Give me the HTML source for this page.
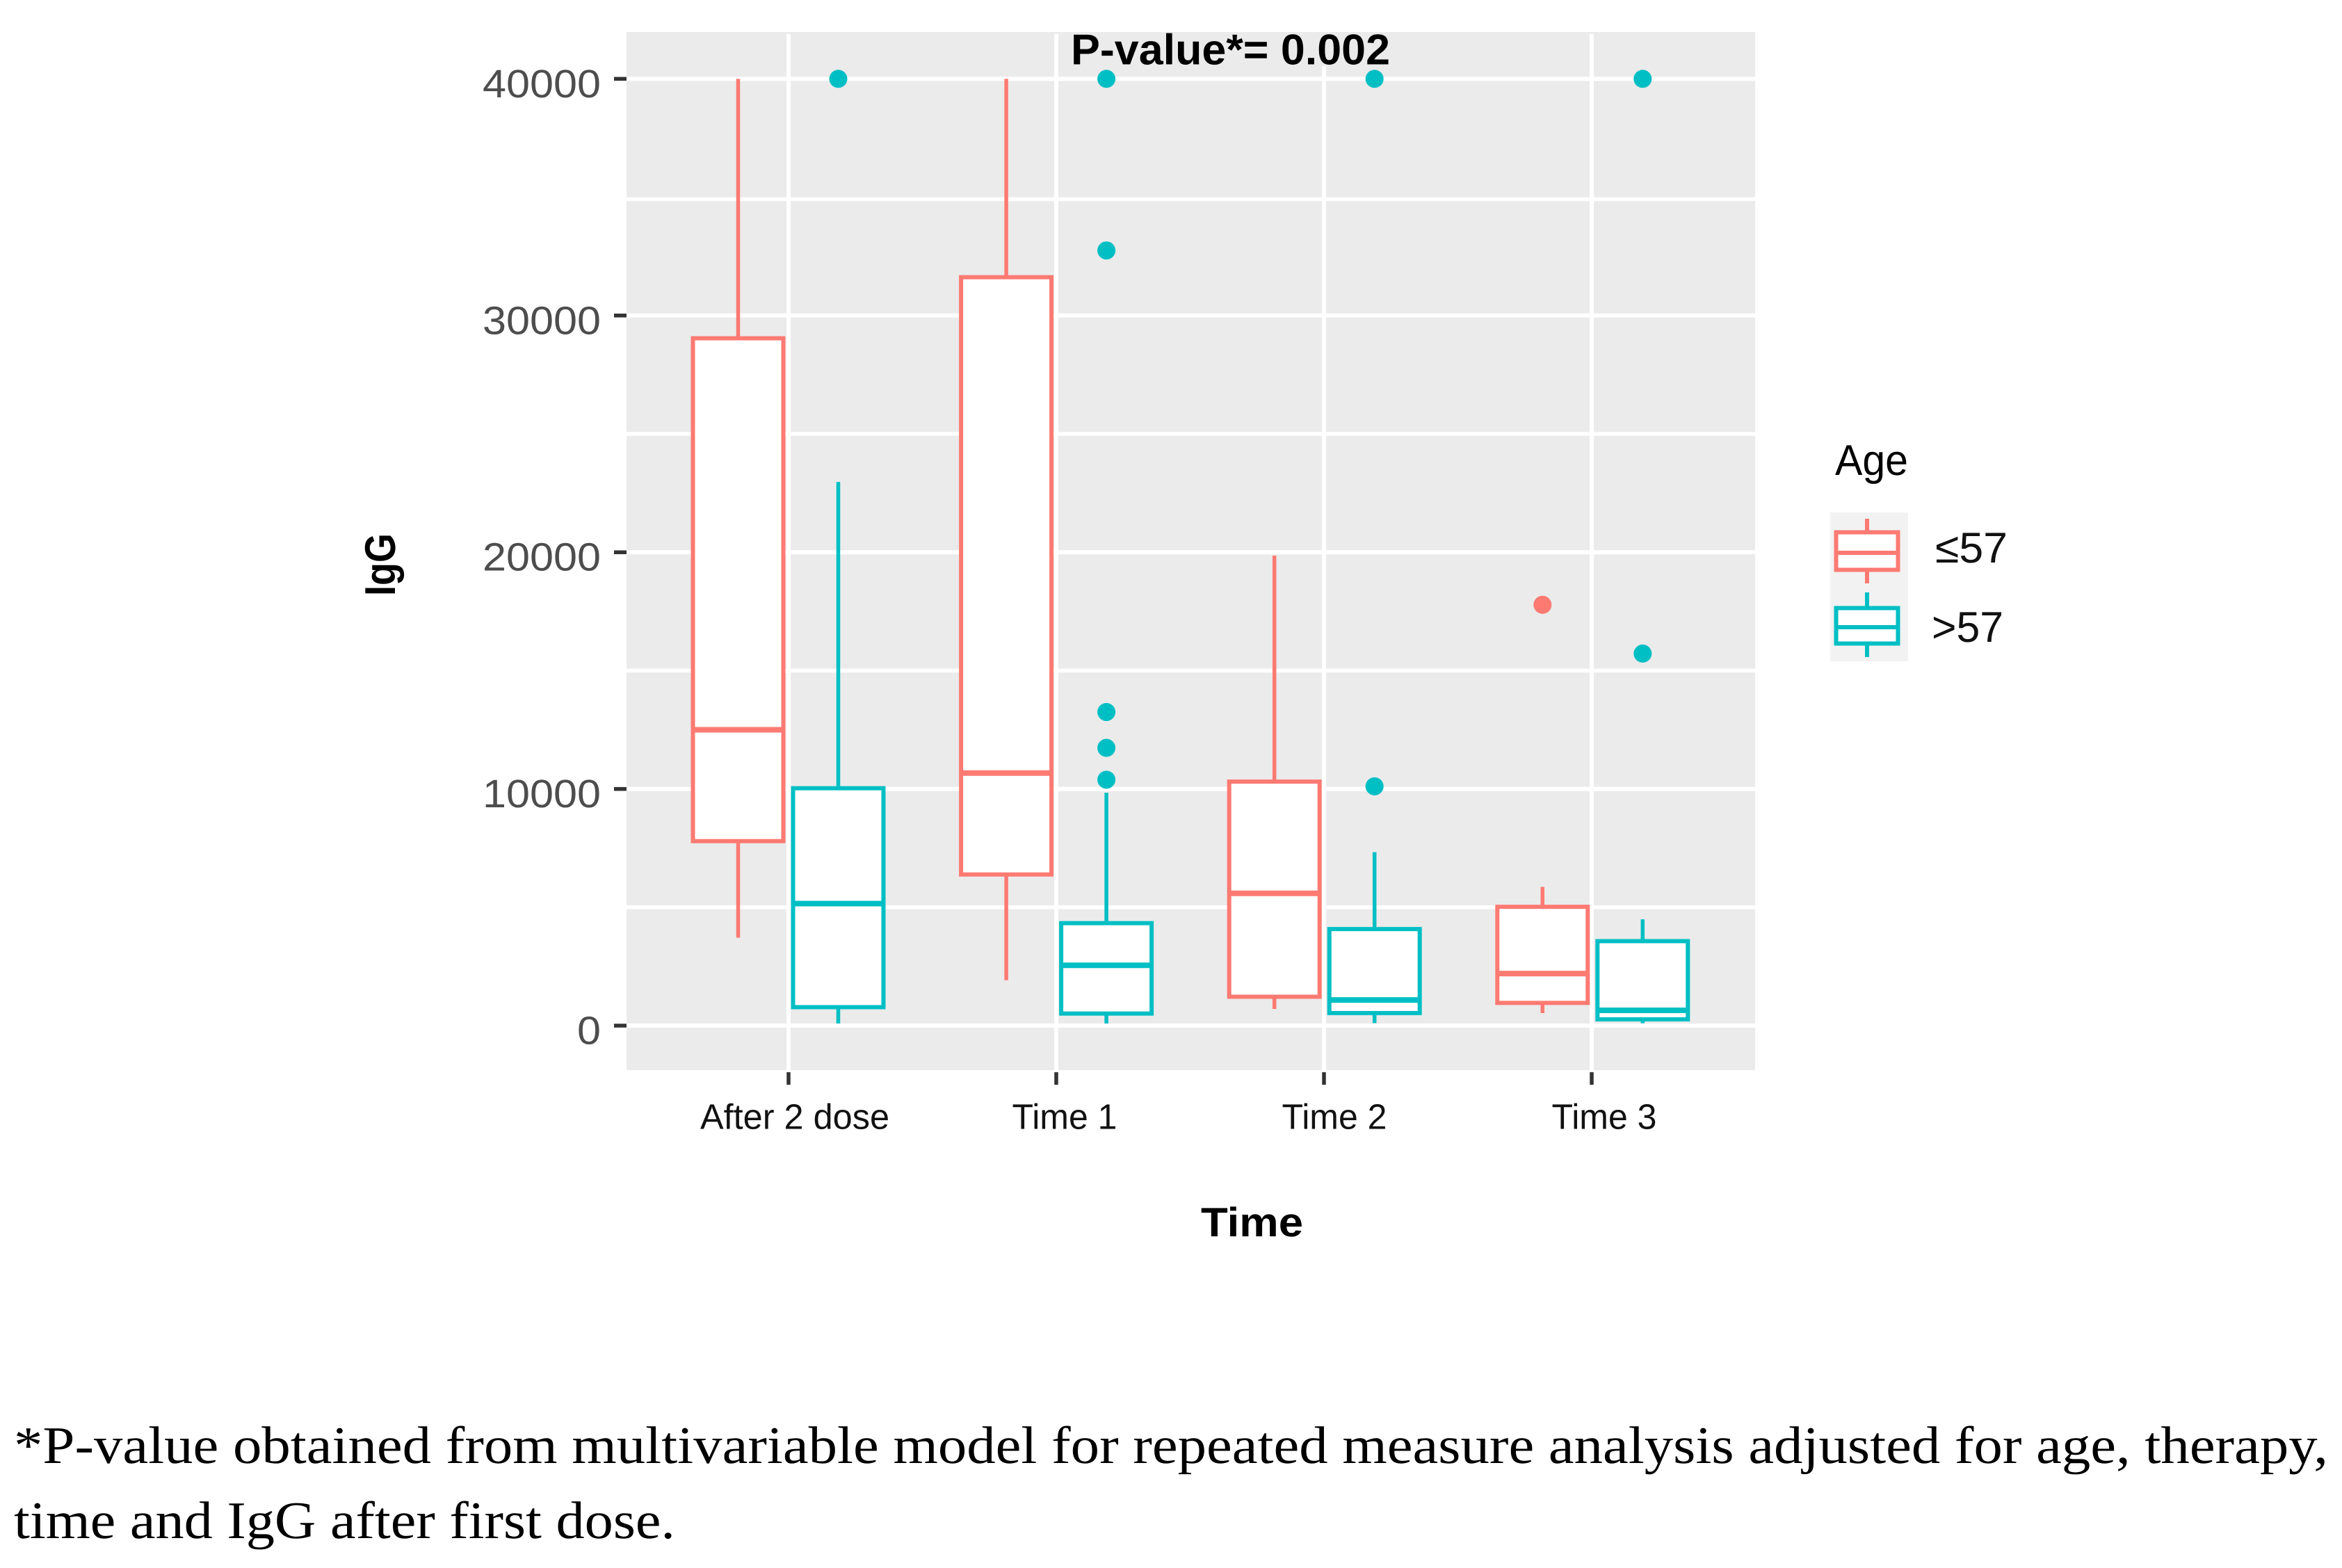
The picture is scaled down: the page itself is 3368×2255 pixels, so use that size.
<!DOCTYPE html>
<html lang="en">
<head>
<meta charset="utf-8">
<title>IgG by Time and Age</title>
<style>
html,body{margin:0;padding:0;background:#fff;}
body{width:3368px;height:2255px;overflow:hidden;}
svg{display:block;text-rendering:geometricPrecision;}
text{font-family:"Liberation Sans",sans-serif;}
.note{font-family:"Liberation Serif",serif;font-size:76px;fill:#000;}
</style>
</head>
<body>
<svg id="chart" xmlns="http://www.w3.org/2000/svg" width="3368" height="2255" viewBox="0 0 3368 2255">
  <rect width="3368" height="2255" fill="#ffffff"/>
  <rect x="901" y="46" width="1623" height="1493" fill="#ebebeb"/>
  <g id="grid"></g>
  <g id="marks"></g>
  <g id="axes"></g>
  <rect x="1538" y="46" width="464" height="49" fill="#ebebeb"/>
  <text x="1540" y="92.5" font-size="62" font-weight="700" fill="#000" textLength="459" lengthAdjust="spacingAndGlyphs">P-value*= 0.002</text>
  <text x="1727" y="1778" font-size="59" font-weight="700" fill="#000" textLength="147" lengthAdjust="spacingAndGlyphs">Time</text>
  <text transform="translate(568 857) rotate(-90)" font-size="62" font-weight="700" fill="#000" textLength="90" lengthAdjust="spacingAndGlyphs">IgG</text>

  <g>
    <text x="2639" y="683" font-size="62" fill="#000" textLength="105" lengthAdjust="spacingAndGlyphs">Age</text>
    <rect x="2632" y="737" width="112" height="214" fill="#f2f2f2"/>
    <g stroke="#fc7a72" stroke-width="6" fill="#fff">
      <line x1="2685" x2="2685" y1="746" y2="839"/>
      <rect x="2640.5" y="765.5" width="89" height="54"/>
      <line x1="2640" x2="2730" y1="795" y2="795"/>
    </g>
    <g stroke="#00bfc4" stroke-width="6" fill="#fff">
      <line x1="2685" x2="2685" y1="852" y2="945"/>
      <rect x="2640.5" y="874.5" width="89" height="51"/>
      <line x1="2640" x2="2730" y1="902" y2="902"/>
    </g>
    <text x="2783" y="809" font-size="62" fill="#111" textLength="104" lengthAdjust="spacingAndGlyphs">≤57</text>
    <text x="2778" y="923" font-size="62" fill="#111" textLength="103" lengthAdjust="spacingAndGlyphs">&gt;57</text>
  </g>

  <text class="note" x="20" y="2104" textLength="3328" lengthAdjust="spacingAndGlyphs">*P-value obtained from multivariable model for repeated measure analysis adjusted for age, therapy,</text>
  <text class="note" x="20" y="2212" textLength="951" lengthAdjust="spacingAndGlyphs">time and IgG after first dose.</text>
</svg>

<script>
const categories = ["After 2 dose", "Time 1", "Time 2", "Time 3"];
const yTickLabels = [0, 10000, 20000, 30000, 40000];
const yMinorTicks = [5000, 15000, 25000, 34920];

const youngWhiskerLow  = [3715, 1920, 705, 530];
const youngQ1          = [7795, 6385, 1220, 960];
const youngMedian      = [12500, 10670, 5590, 2200];
const youngQ3          = [29040, 31620, 10310, 5020];
const youngWhiskerHigh = [40000, 40000, 19860, 5860];
const youngOutliers    = [[], [], [], [17780]];

const oldWhiskerLow  = [90, 90, 105, 100];
const oldQ1          = [780, 510, 530, 265];
const oldMedian      = [5155, 2550, 1085, 645];
const oldQ3          = [10030, 4330, 4080, 3570];
const oldWhiskerHigh = [22970, 9840, 7330, 4490];
const oldOutliers    = [[40000], [40000, 32750, 13250, 11735, 10390], [40000, 10110], [40000, 15720]];

const NS = "http://www.w3.org/2000/svg";
function yScale(v) { return 1475 - v * 0.03404; }
function xScale(i) { return 1134 + i * 385; }
function groupCenter(i) { return 1133.5 + i * 385.6; }
function xLabelScale(i) { return 1143 + i * 388; }
function make(parent, tag, attrs) {
  const node = document.createElementNS(NS, tag);
  for (const key in attrs) node.setAttribute(key, attrs[key]);
  parent.appendChild(node);
  return node;
}

const grid = document.getElementById("grid");
const marks = document.getElementById("marks");
const axes = document.getElementById("axes");

yMinorTicks.forEach(function (v) {
  const line = make(grid, "line", { x1: 901, x2: 2524, y1: yScale(v), y2: yScale(v), stroke: "#ffffff", "stroke-width": 5.5 });
  
  
});
yTickLabels.forEach(function (v) {
  const line = make(grid, "line", { x1: 901, x2: 2524, y1: yScale(v), y2: yScale(v), stroke: "#ffffff", "stroke-width": 6 });
  
  

  const tick = make(axes, "line", { x1: 883, x2: 901, y1: yScale(v), y2: yScale(v), stroke: "#333333", "stroke-width": 5.5 });
  
  

  const label = make(axes, "text", { x: 864, y: yScale(v) + 26.5, "text-anchor": "end", "font-size": 57, fill: "#4d4d4d" });
  label.textContent = String(v);
  label.setAttribute('textLength', String(v).length * 34);
  label.setAttribute('lengthAdjust', 'spacingAndGlyphs');
  
  
});

categories.forEach(function (name, i) {
  const vline = make(grid, "line", { x1: xScale(i), x2: xScale(i), y1: 49, y2: 1539, stroke: "#ffffff", "stroke-width": 6 });
  
  

  const tick = make(axes, "line", { x1: xScale(i), x2: xScale(i), y1: 1542, y2: 1560, stroke: "#333333", "stroke-width": 5.5 });
  
  

  const label = make(axes, "text", { x: xLabelScale(i), y: 1623.5, "text-anchor": "middle", "font-size": 51, fill: "#111111" });
  label.textContent = name;
  label.setAttribute('textLength', name.length > 6 ? 272 : 151);
  label.setAttribute('lengthAdjust', 'spacingAndGlyphs');
  
  
});

function drawSeries(seriesName, color, offset, low, q1, med, q3, high, outliers) {
  categories.forEach(function (name, i) {
    const cx = groupCenter(i) + offset;
    const halfWidth = 65;

    const whisker = make(marks, "line", { x1: cx, x2: cx, y1: yScale(low[i]), y2: yScale(high[i]), stroke: color, "stroke-width": 5.5 });
    
    

    const box = make(marks, "rect", { x: cx - halfWidth, y: yScale(q3[i]), width: halfWidth * 2, height: yScale(q1[i]) - yScale(q3[i]), fill: "#ffffff", stroke: color, "stroke-width": 6 });
    
    

    const median = make(marks, "line", { x1: cx - halfWidth, x2: cx + halfWidth, y1: yScale(med[i]), y2: yScale(med[i]), stroke: color, "stroke-width": 8 });
    
    

    outliers[i].forEach(function (v, k) {
      const dot = make(marks, "circle", { cx: cx, cy: yScale(v), r: 13, fill: color });
      
      
    });
  });
}

drawSeries("age-57-or-under", "#fc7a72", -72, youngWhiskerLow, youngQ1, youngMedian, youngQ3, youngWhiskerHigh, youngOutliers);
drawSeries("age-over-57", "#00bfc4", 72, oldWhiskerLow, oldQ1, oldMedian, oldQ3, oldWhiskerHigh, oldOutliers);
</script>
</body>
</html>
